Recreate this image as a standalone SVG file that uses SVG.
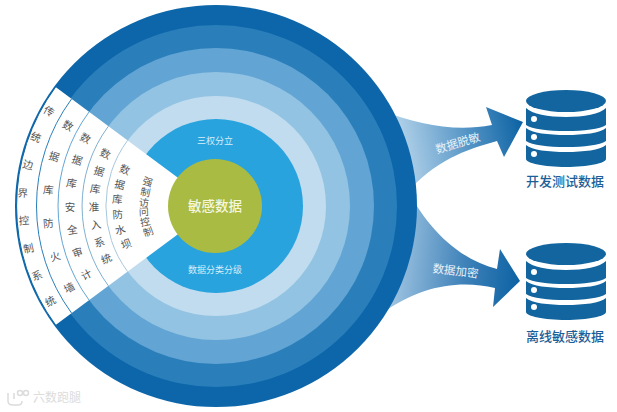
<svg xmlns="http://www.w3.org/2000/svg" width="617" height="412" viewBox="0 0 617 412">
<style>
text{font-family:"Noto Sans CJK SC","Noto Sans",sans-serif}
.w{font-size:10.500px;fill:#555;text-anchor:middle;dominant-baseline:central}
.s{font-size:10px}
.l{fill:#d8eef9;font-size:9px;text-anchor:middle}
.a{fill:#e8f2f9;font-size:11.500px;text-anchor:middle}
.n{fill:#1c5f98;font-size:13px;font-weight:500;text-anchor:middle}
.arc{fill:none;stroke-width:1}
.db{fill:#12659f}
.wm{fill:none;stroke:#dcdcdc;stroke-width:1.500}
</style>
<defs>
<linearGradient id="g1" gradientUnits="userSpaceOnUse" x1="400" y1="150" x2="523" y2="125"><stop offset="0" stop-color="#b4d3ea"/><stop offset=".6" stop-color="#4c8fc2"/><stop offset="1" stop-color="#0c62a3"/></linearGradient>
<linearGradient id="g2" gradientUnits="userSpaceOnUse" x1="395" y1="270" x2="520" y2="281"><stop offset="0" stop-color="#9cc2e0"/><stop offset=".55" stop-color="#3f82b9"/><stop offset="1" stop-color="#0c62a3"/></linearGradient>
<g id="cyl">
<ellipse class="db" cx="566" cy="101" rx="40" ry="11"/>
<path class="db" d="M526 108c6 6 22 9 40 9s34-3 40-9v17c-6 4-22 6-40 6s-34-2-40-6z"/>
<path class="db" d="M526 128c6 5 22 7 40 7s34-2 40-7v13c-6 4-22 6-40 6s-34-2-40-6z"/>
<path class="db" d="M526 145c6 5 22 7 40 7s34-2 40-7v14c0 4-18 8-40 8s-40-4-40-8z"/>
<circle cx="534" cy="119" r="3" fill="#fff"/><circle cx="534" cy="137" r="3" fill="#fff"/><circle cx="534" cy="154" r="3" fill="#fff"/></g>
</defs>
<rect width="617" height="412" fill="#fff"/>
<g id="connectors">
<path fill="url(#g1)" d="M380 110C420 125 455 132 492 125L486 107 523 122 504 157 497 141C465 150 435 160 405 195Z"/>
<path fill="url(#g2)" d="M405 185C425 225 455 258 497 269L500 249 520 281 493 307 495 288C460 280 420 285 380 315Z"/>
</g>
<g id="rings">
<circle cx="216" cy="206" r="201" fill="#0c66a9"/>
<circle cx="216" cy="206" r="181" fill="#2a7fbb"/>
<circle cx="216" cy="206" r="158" fill="#62a5d4"/>
<circle cx="216" cy="206" r="134" fill="#92c3e3"/>
<circle cx="216" cy="206" r="110" fill="#c0dcee"/>
<circle cx="216" cy="206" r="87" fill="#29a3de"/>
</g>
<g id="wedge">
<path fill="#fff" d="M216 206L55.600 87A201 201 0 0 0 55.600 325Z"/>
<path class="arc" stroke="#0c66a9" d="M55.600 87A201 201 0 0 0 55.600 325"/>
<path class="arc" stroke="#2a7fbb" d="M71.500 99A181 181 0 0 0 71.500 313"/>
<path class="arc" stroke="#62a5d4" d="M89.100 111.900A158 158 0 0 0 89.100 300.100"/>
<path class="arc" stroke="#7fb0d0" d="M108.400 126.200A134 134 0 0 0 108.400 285.800"/>
<path class="arc" stroke="#a8c8dc" d="M127.600 140.400A110 110 0 0 0 127.600 271.600"/>
</g>
<g id="wedge-labels">
<g class="col">
<text class="w" transform="translate(49.300 110.700) rotate(30)">传</text>
<text class="w" transform="translate(36 136.700) rotate(21)">统</text>
<text class="w" transform="translate(28 164.300) rotate(12.500)">边</text>
<text class="w" transform="translate(22.700 192.300) rotate(4)">界</text>
<text class="w" transform="translate(24 220) rotate(-4)">控</text>
<text class="w" transform="translate(28.300 247.700) rotate(-12.500)">制</text>
<text class="w" transform="translate(36.700 275) rotate(-21)">系</text>
<text class="w" transform="translate(50 300.700) rotate(-30)">统</text>
</g>
<g class="col">
<text class="w" transform="translate(68.300 125) rotate(28.700)">数</text>
<text class="w" transform="translate(54.300 156) rotate(17)">据</text>
<text class="w" transform="translate(48.300 189.300) rotate(5.700)">库</text>
<text class="w" transform="translate(48.300 222.700) rotate(-5.700)">防</text>
<text class="w" transform="translate(55 256) rotate(-17)">火</text>
<text class="w" transform="translate(69 287.300) rotate(-28.700)">墙</text>
</g>
<g class="col">
<text class="w" transform="translate(85.700 137.700) rotate(27.700)">数</text>
<text class="w" transform="translate(77.300 159.300) rotate(18.600)">据</text>
<text class="w" transform="translate(71.700 182.700) rotate(9.200)">库</text>
<text class="w" transform="translate(70 206)">安</text>
<text class="w" transform="translate(72.300 229.300) rotate(-9.200)">全</text>
<text class="w" transform="translate(77.300 251.700) rotate(-18.600)">审</text>
<text class="w" transform="translate(86 274) rotate(-27.700)">计</text>
</g>
<g class="col">
<text class="w" transform="translate(105.700 153.300) rotate(25.500)">数</text>
<text class="w" transform="translate(99.300 170.700) rotate(16.800)">据</text>
<text class="w" transform="translate(95.300 188.300) rotate(8.300)">库</text>
<text class="w" transform="translate(94 206)">准</text>
<text class="w" transform="translate(95.700 224) rotate(-8.300)">入</text>
<text class="w" transform="translate(99.300 241.700) rotate(-16.800)">系</text>
<text class="w" transform="translate(106 258.300) rotate(-25.500)">统</text>
</g>
<g class="col">
<text class="w" transform="translate(125 169) rotate(22)">数</text>
<text class="w" transform="translate(120 184) rotate(13)">据</text>
<text class="w" transform="translate(117.300 198.700) rotate(4)">库</text>
<text class="w" transform="translate(117.700 214) rotate(-4)">防</text>
<text class="w" transform="translate(120 229.300) rotate(-13)">水</text>
<text class="w" transform="translate(126 243.300) rotate(-22)">坝</text>
</g>
<g class="col">
<text class="w s" transform="translate(148 181) rotate(20)">强</text>
<text class="w s" transform="translate(145.700 191.300) rotate(12)">制</text>
<text class="w s" transform="translate(144 201.700) rotate(3.400)">访</text>
<text class="w s" transform="translate(143.700 211) rotate(-3)">问</text>
<text class="w s" transform="translate(145 221) rotate(-12)">控</text>
<text class="w s" transform="translate(148 231) rotate(-20)">制</text>
</g>
</g>
<g id="core">
<circle cx="215" cy="206" r="47" fill="#a9bb42"/>
<text x="215" y="211" fill="#f4f7e0" font-size="13.500" font-weight="500" text-anchor="middle">敏感数据</text>
</g>
<text class="l" x="215" y="144">三权分立</text>
<text class="l" x="215" y="273">数据分类分级</text>
<text class="a" transform="translate(459 147) rotate(-17)">数据脱敏</text>
<text class="a" transform="translate(455 275) rotate(7)">数据加密</text>
<g id="db1"><use href="#cyl"/><text class="n" x="565" y="186">开发测试数据</text></g>
<g id="db2"><use href="#cyl" y="153"/><text class="n" x="565" y="341">离线敏感数据</text></g>
<g id="watermark">
<path class="wm" d="M8 393v8c0 3 2 4 5 4h5c3 0 4-2 4-4M14 393v6"/>
<circle class="wm" cx="20" cy="393" r="2.500"/><circle class="wm" cx="26" cy="393" r="2.500"/>
<text x="33" y="402" font-size="12" fill="#dcdcdc">六数跑腿</text>
</g>
</svg>
